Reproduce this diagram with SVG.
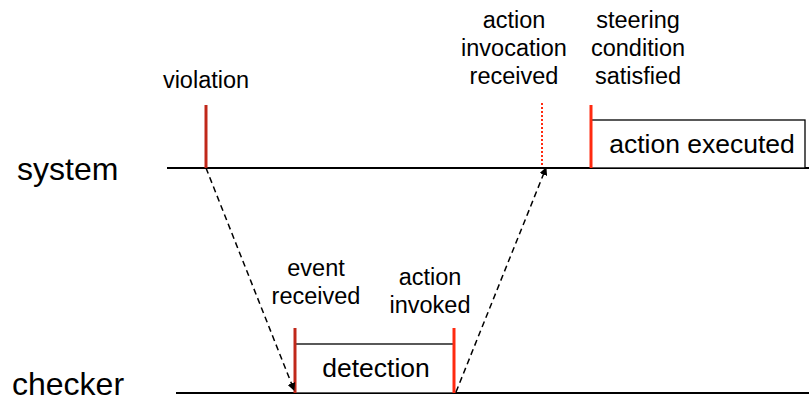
<svg xmlns="http://www.w3.org/2000/svg" width="809" height="396" viewBox="0 0 809 396">
<defs>
<marker id="ah" markerWidth="8" markerHeight="8" refX="7" refY="4" orient="auto" markerUnits="userSpaceOnUse">
<path d="M0,0 L8,4 L0,8 z" fill="#000"/>
</marker>
<style>
text{font-family:"Liberation Sans",Arial,sans-serif;fill:#000}
.lbl{font-size:23.5px;text-anchor:middle}
.big{font-size:32px}
.box{font-size:26.5px;text-anchor:middle}
.axis{stroke:#000;stroke-width:2}
.dash{stroke:#000;stroke-width:1.5;stroke-dasharray:6,4;fill:none}
.red{stroke:#ff2a10;stroke-width:3}
.dred{stroke:#c0281a;stroke-width:3}
.rect{fill:#fff;stroke:#000;stroke-width:1.3}
</style>
</defs>
<rect width="809" height="396" fill="#fff"/>
<g id="system">
<text class="big" x="17" y="180">system</text>
<line class="axis" x1="167" y1="168" x2="809" y2="168"/>
</g>
<g id="checker">
<text class="big" x="12" y="395">checker</text>
<line class="axis" x1="176" y1="393" x2="809" y2="393"/>
</g>
<g id="violation">
<text class="lbl" x="206" y="88">violation</text>
<line class="dred" x1="206" y1="105" x2="206" y2="168"/>
</g>
<g id="action-invocation-received">
<text class="lbl" x="514" y="28">action</text>
<text class="lbl" x="514" y="56">invocation</text>
<text class="lbl" x="514" y="84">received</text>
<line x1="542" y1="103" x2="542" y2="166" stroke="#ff2a10" stroke-width="2" stroke-dasharray="2,2"/>
</g>
<g id="action-executed">
<text class="lbl" x="638" y="28">steering</text>
<text class="lbl" x="638" y="56">condition</text>
<text class="lbl" x="638" y="84">satisfied</text>
<rect class="rect" x="591" y="120" width="214" height="48"/>
<line class="red" x1="591" y1="105" x2="591" y2="168"/>
<text class="box" x="702" y="153">action executed</text>
</g>
<g id="detection">
<text class="lbl" x="316" y="276">event</text>
<text class="lbl" x="316" y="304">received</text>
<text class="lbl" x="430" y="285">action</text>
<text class="lbl" x="430" y="313">invoked</text>
<rect class="rect" x="295" y="344" width="159" height="49"/>
<line class="dred" x1="295" y1="328" x2="295" y2="393"/>
<line class="red" x1="454" y1="328" x2="454" y2="393"/>
<text class="box" x="376" y="377">detection</text>
</g>
<g id="connectors">
<line class="dash" x1="206" y1="168" x2="294" y2="390" marker-end="url(#ah)"/>
<line class="dash" x1="456" y1="392" x2="546" y2="168" marker-end="url(#ah)"/>
</g>
</svg>
